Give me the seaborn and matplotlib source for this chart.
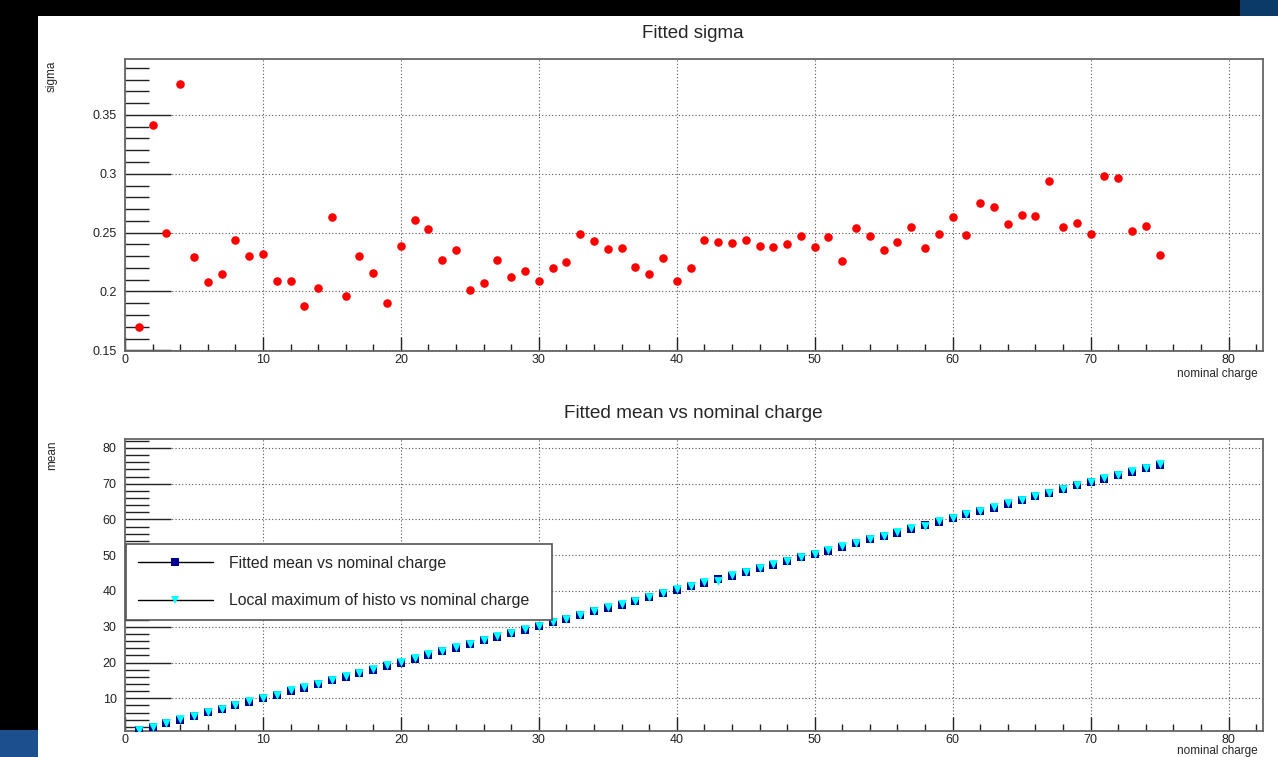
import matplotlib
matplotlib.use('Agg')
import matplotlib.pyplot as plt
import pandas as pd
import seaborn as sns
from matplotlib.lines import Line2D
from matplotlib.patches import Rectangle
from matplotlib.ticker import MultipleLocator, FormatStrFormatter

# nominal charge of each point
charge = [1, 2, 3, 4, 5, 6, 7, 8, 9, 10,
          11, 12, 13, 14, 15, 16, 17, 18, 19, 20,
          21, 22, 23, 24, 25, 26, 27, 28, 29, 30,
          31, 32, 33, 34, 35, 36, 37, 38, 39, 40,
          41, 42, 43, 44, 45, 46, 47, 48, 49, 50,
          51, 52, 53, 54, 55, 56, 57, 58, 59, 60,
          61, 62, 63, 64, 65, 66, 67, 68, 69, 70,
          71, 72, 73, 74, 75]

sigma = [0.170, 0.341, 0.250, 0.376, 0.229, 0.208, 0.215, 0.244, 0.230, 0.232,
         0.209, 0.209, 0.188, 0.203, 0.263, 0.196, 0.230, 0.216, 0.190, 0.239,
         0.261, 0.253, 0.227, 0.235, 0.201, 0.207, 0.227, 0.212, 0.217, 0.209,
         0.220, 0.225, 0.249, 0.243, 0.236, 0.237, 0.221, 0.215, 0.228, 0.209,
         0.220, 0.244, 0.242, 0.241, 0.244, 0.239, 0.238, 0.240, 0.247, 0.238,
         0.246, 0.226, 0.254, 0.247, 0.235, 0.242, 0.255, 0.237, 0.249, 0.263,
         0.248, 0.275, 0.272, 0.257, 0.265, 0.264, 0.294, 0.255, 0.258, 0.249,
         0.298, 0.296, 0.251, 0.256, 0.231]

mean_fit = [1.0, 1.9, 3.0, 4.0, 5.0, 6.1, 7.0, 8.0, 8.9, 10.0,
            11.0, 12.1, 13.0, 14.0, 15.1, 16.0, 17.0, 18.0, 19.1, 20.0,
            21.1, 22.2, 23.1, 24.1, 25.2, 26.2, 27.2, 28.2, 29.2, 30.2,
            31.2, 32.3, 33.2, 34.3, 35.3, 36.2, 37.3, 38.3, 39.3, 40.4,
            41.3, 42.3, 43.4, 44.3, 45.4, 46.3, 47.4, 48.3, 49.4, 50.3,
            51.3, 52.4, 53.3, 54.4, 55.3, 56.3, 57.4, 58.5, 59.4, 60.3,
            61.4, 62.4, 63.3, 64.4, 65.4, 66.5, 67.4, 68.4, 69.5, 70.4,
            71.4, 72.4, 73.4, 74.4, 75.3]

local_max = [1.1, 2.0, 3.1, 4.1, 5.0, 6.1, 7.1, 8.1, 9.3, 10.1,
             11.0, 12.2, 13.1, 14.1, 15.2, 16.1, 17.1, 18.2, 19.2, 20.1,
             21.2, 22.5, 23.2, 24.2, 25.3, 26.3, 27.3, 28.2, 29.3, 30.3,
             31.3, 32.3, 33.4, 34.4, 35.4, 36.3, 37.3, 38.4, 39.5, 40.5,
             41.4, 42.4, 42.9, 44.4, 45.4, 46.4, 47.5, 48.4, 49.5, 50.4,
             51.4, 52.5, 53.4, 54.5, 55.4, 56.4, 57.5, 58.2, 59.5, 60.4,
             61.5, 62.5, 63.4, 64.5, 65.5, 66.6, 67.5, 68.5, 69.6, 70.5,
             71.5, 72.5, 73.5, 74.5, 75.4]

df_sigma = pd.DataFrame({'charge': charge, 'sigma': sigma})
df_mean = pd.DataFrame({'charge': charge, 'mean': mean_fit, 'locmax': local_max})

sns.set_theme(style='white')
plt.rcParams['font.family'] = ['Liberation Sans', 'DejaVu Sans']

W, H = 1278, 757
fig = plt.figure(figsize=(W / 100, H / 100), dpi=100, facecolor='black')

# white canvas plus the bits of desktop showing round it
fig.patches.append(Rectangle((38 / W, 0), 1 - 38 / W, 1 - 16 / H, transform=fig.transFigure,
                             facecolor='white', edgecolor='none', zorder=-2))
fig.patches.append(Rectangle((0, 0), 38 / W, 27 / H, transform=fig.transFigure,
                             facecolor='#1c4f8e', edgecolor='none', zorder=-2))
fig.patches.append(Rectangle((1240 / W, 1 - 16 / H), 38 / W, 16 / H, transform=fig.transFigure,
                             facecolor='#0b3a68', edgecolor='none', zorder=-2))

ax1 = fig.add_axes([125 / W, 1 - 351 / H, 1138 / W, 292 / H])
ax2 = fig.add_axes([125 / W, 1 - 731 / H, 1138 / W, 292 / H])

sns.scatterplot(data=df_sigma, x='charge', y='sigma', ax=ax1, color='#ff0000',
                s=38, linewidth=0, marker='o', zorder=3)

sns.scatterplot(data=df_mean, x='charge', y='mean', ax=ax2, color='#000090',
                s=40, linewidth=0, marker='s', zorder=3)
sns.scatterplot(data=df_mean, x='charge', y='locmax', ax=ax2, color='#00ffff',
                s=40, linewidth=0, marker='v', zorder=4)


def root_style(ax, ymajor, yminor, ylim):
    ax.set_xlim(0, 82.5)
    ax.set_ylim(*ylim)
    ax.xaxis.set_major_locator(MultipleLocator(10))
    ax.xaxis.set_minor_locator(MultipleLocator(2))
    ax.yaxis.set_major_locator(MultipleLocator(ymajor))
    ax.yaxis.set_minor_locator(MultipleLocator(yminor))
    ax.yaxis.set_major_formatter(FormatStrFormatter('%g'))
    ax.tick_params(which='both', bottom=True, left=True, top=False, right=False)
    ax.tick_params(axis='x', which='major', direction='in', length=10, width=1, color='#222222',
                   labelsize=9, pad=2, labelcolor='#222222')
    ax.tick_params(axis='x', which='minor', direction='in', length=5, width=1, color='#222222')
    ax.tick_params(axis='y', which='major', direction='in', length=33, width=1, color='#222222',
                   labelsize=9, pad=6, labelcolor='#222222')
    ax.tick_params(axis='y', which='minor', direction='in', length=17, width=1, color='#222222')
    ax.grid(True, which='major', linestyle=(0, (1, 2)), color='#555555', linewidth=0.8)
    ax.set_axisbelow(True)
    for sp in ax.spines.values():
        sp.set_visible(True)
        sp.set_color('#666666')
        sp.set_linewidth(1.3)
    ax.set_xlabel('')
    ax.set_ylabel('')
    ax.set_facecolor('white')


root_style(ax1, 0.05, 0.01, (0.1494, 0.3975))
root_style(ax2, 10, 2, (0.85, 82.5))

fig.text(693 / W, 1 - 34 / H, 'Fitted sigma', ha='center', va='center', fontsize=13.5)
fig.text(693 / W, 1 - 414 / H, 'Fitted mean vs nominal charge', ha='center', va='center', fontsize=13.7)
fig.text(52 / W, 1 - 61 / H, 'sigma', rotation=90, ha='center', va='top', fontsize=8.5)
fig.text(52 / W, 1 - 441 / H, 'mean', rotation=90, ha='center', va='top', fontsize=8.5)
fig.text(1258 / W, 1 - 368 / H, 'nominal charge', ha='right', va='top', fontsize=8.5)
fig.text(1258 / W, 1 - 745 / H, 'nominal charge', ha='right', va='top', fontsize=8.5)

handles = [Line2D([0], [0], color='black', lw=1, marker='s', markersize=5.5,
                  markerfacecolor='#000090', markeredgewidth=0),
           Line2D([0], [0], color='black', lw=1, marker='v', markersize=6,
                  markerfacecolor='#00ffff', markeredgewidth=0)]
leg = ax2.legend(handles, ['Fitted mean vs nominal charge', 'Local maximum of histo vs nominal charge'],
                 loc='upper left', bbox_to_anchor=(0.001, 0.0, 0.374, 0.640), mode='expand',
                 borderaxespad=0, fontsize=11.4, frameon=True, fancybox=False, framealpha=1,
                 edgecolor='#555555', handlelength=4.75, handletextpad=1.0, borderpad=0.72,
                 labelspacing=1.45, numpoints=1)
leg.get_frame().set_linewidth(1.2)
leg.set_zorder(10)

fig.savefig('out.png', dpi=100, facecolor=fig.get_facecolor())
